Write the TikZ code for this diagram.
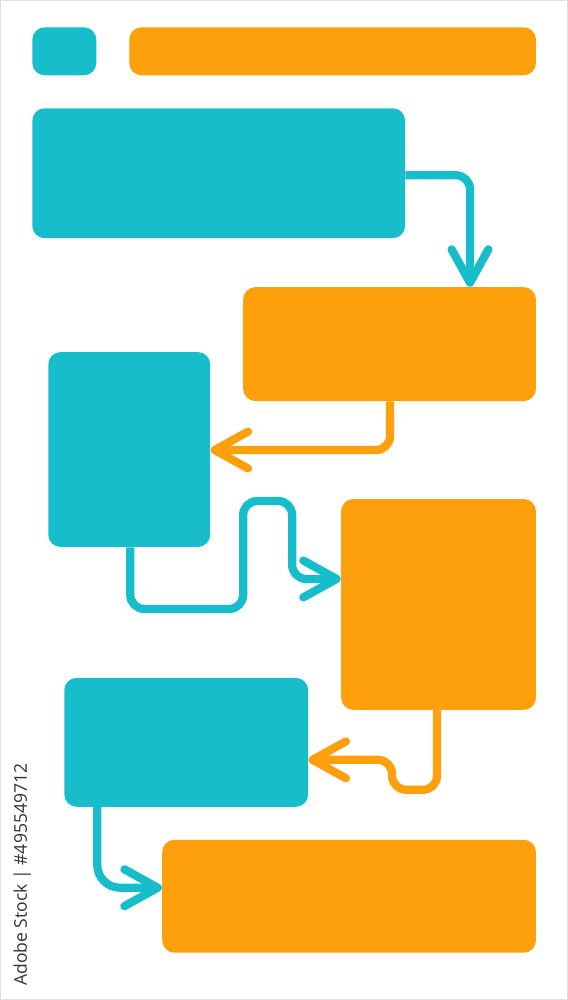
\documentclass[tikz,border=0pt]{standalone}
\usepackage{fontspec}
\newfontfamily\wmfont{Open Sans}
\usetikzlibrary{fit,arrows.meta}
\definecolor{tealc}{HTML}{17BDCA}
\definecolor{orangec}{HTML}{FEA00B}
\begin{document}
\begin{tikzpicture}[x=0.02cm,y=-0.02cm,
  box/.style={inner sep=0pt,rounded corners=7pt,draw=none},
  tbox/.style={box,fill=tealc},
  obox/.style={box,fill=orangec},
  conn/.style={line width=4.7pt,rounded corners=8pt,
    -{Straight Barb[length=19pt,width=21pt,line width=4.7pt,round]}},
  tconn/.style={conn,draw=tealc},
  oconn/.style={conn,draw=orangec}]
\useasboundingbox[draw=black!12,line width=0.4pt] (0,0) rectangle (567,1000);
% boxes
\node[tbox,fit={(32,27) (96,75)}] (b1) {};
\node[obox,fit={(129,27) (536,75)}] (b2) {};
\node[tbox,fit={(32,108) (405,238)}] (b3) {};
\node[obox,fit={(243,287) (536,401)}] (b4) {};
\node[tbox,fit={(48,352) (210,547)}] (b5) {};
\node[obox,fit={(341,499) (536,710)}] (b6) {};
\node[tbox,fit={(64,678) (308,807)}] (b7) {};
\node[obox,fit={(162,840) (536,953)}] (b8) {};
% bend points
\coordinate (a1) at (470,175);
\coordinate (a2) at (390,450);
\coordinate (c1) at (130,609);
\coordinate (c2) at (243,609);
\coordinate (c3) at (243,501);
\coordinate (c4) at (292,501);
\coordinate (c5) at (292,579);
\coordinate (d1) at (437,790);
\coordinate (d2) at (392,790);
\coordinate (d3) at (392,760);
\coordinate (e1) at (97,888);
% connectors
\draw[tconn] (b3.east |- a1) -| (b4.north -| a1);
\draw[oconn] (b4.south -| a2) |- (b5.east |- a2);
\draw[tconn] (b5.south -| c1) -- (c1) -- (c2) -- (c3) -- (c4) -- (c5) -- (b6.west |- c5);
\draw[oconn] (b6.south -| d1) -- (d1) -- (d2) -- (d3) -- (b7.east |- d3);
\draw[tconn,rounded corners=13pt] (b7.south -| e1) -- (e1) -- (b8.west |- e1);
% vertical stock id
\node[rotate=90,text=black!80,font=\wmfont\fontsize{10}{12}\selectfont,inner sep=0pt] (wm) at (22,875) {Adobe Stock | \#495549712};
\end{tikzpicture}
\end{document}
